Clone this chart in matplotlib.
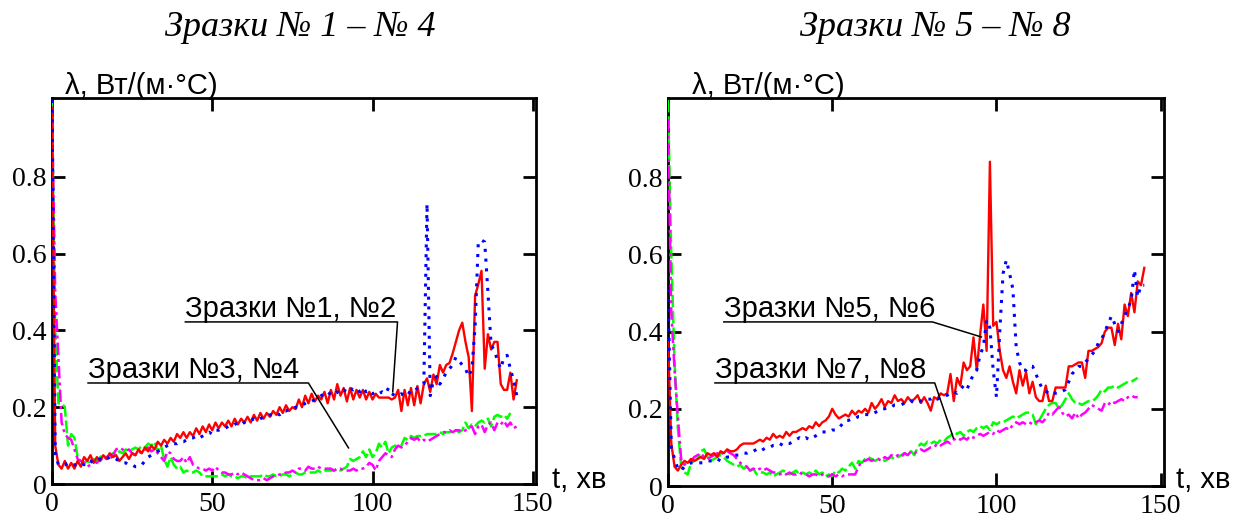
import numpy as np
import matplotlib
matplotlib.use("Agg")
import matplotlib.pyplot as plt

nan = np.nan
# time axis, minutes
t_min = list(range(0, 146))

# ---- Samples 1-4 ----
s1 = [0.98, 0.10, 0.05, 0.04, 0.06, 0.04, 0.055, 0.04, 0.06, 0.045,
      0.07, 0.06, 0.075, 0.055, 0.07, 0.06, 0.075, 0.065, 0.08, 0.07,
      0.075, 0.06, 0.07, 0.08, 0.065, 0.08, 0.075, 0.09, 0.08, 0.095,
      0.085, 0.10, 0.09, 0.11, 0.10, 0.115, 0.105, 0.12, 0.11, 0.13,
      0.12, 0.135, 0.12, 0.135, 0.125, 0.145, 0.13, 0.15, 0.135, 0.155,
      0.14, 0.16, 0.145, 0.16, 0.15, 0.165, 0.15, 0.17, 0.155, 0.17,
      0.16, 0.175, 0.16, 0.18, 0.165, 0.185, 0.17, 0.185, 0.175, 0.19,
      0.18, 0.20, 0.185, 0.205, 0.19, 0.20, 0.195, 0.22, 0.20, 0.23,
      0.21, 0.235, 0.215, 0.23, 0.22, 0.24, 0.21, 0.245, 0.22, 0.26,
      0.23, 0.25, 0.215, 0.25, 0.22, 0.245, 0.225, 0.245, 0.22, 0.24,
      0.22, 0.235, 0.225, 0.225, 0.225, 0.225, 0.22, 0.225, 0.245, 0.19,
      0.245, 0.205, 0.25, 0.205, 0.255, 0.21, 0.26, 0.275, 0.24, 0.285,
      0.26, 0.31, 0.29, 0.31, 0.315, 0.34, 0.37, 0.40, 0.42, 0.37,
      0.33, 0.19, 0.49, 0.52, 0.555, 0.30, 0.39, 0.35, 0.37, 0.37,
      0.26, 0.245, 0.245, 0.29, 0.22, 0.27]
s2 = [1.0, 0.08, 0.05, 0.05, 0.05, 0.055, 0.05, 0.05, 0.05, 0.055,
      0.05, 0.06, 0.06, 0.055, 0.06, 0.065, 0.06, 0.065, 0.07, 0.07,
      0.065, 0.06, 0.055, 0.055, 0.05, 0.05, 0.045, 0.045, 0.05, 0.06,
      0.07, 0.075, 0.08, 0.085, 0.09, 0.095, 0.10, 0.105, 0.105, 0.105,
      0.11, 0.11, 0.115, 0.12, 0.12, 0.125, 0.12, 0.125, 0.13, 0.135,
      0.13, 0.14, 0.14, 0.145, 0.145, 0.15, 0.15, 0.155, 0.16, 0.155,
      0.16, 0.165, 0.165, 0.17, 0.165, 0.17, 0.175, 0.175, 0.18, 0.18,
      0.185, 0.18, 0.19, 0.19, 0.195, 0.195, 0.20, 0.20, 0.205, 0.21,
      0.215, 0.215, 0.22, 0.225, 0.23, 0.235, 0.23, 0.24, 0.235, 0.24,
      0.235, 0.245, 0.24, 0.25, 0.245, 0.25, 0.24, 0.25, 0.24, 0.245,
      0.235, 0.24, 0.235, 0.24, 0.235, 0.25, 0.235, 0.23, 0.23, 0.235,
      0.23, 0.24, 0.235, 0.24, 0.25, 0.255, 0.26, 0.73, 0.23, 0.27,
      0.28, 0.26, 0.275, 0.29, 0.30, 0.31, 0.33, 0.32, 0.31, 0.30,
      0.28, 0.30, 0.41, 0.63, 0.635, 0.63, 0.50, 0.36, 0.35, 0.32,
      0.30, 0.33, 0.335, 0.30, 0.27, 0.23]
s3 = [1.0, 0.40, 0.21, 0.21, 0.20, 0.10, 0.13, 0.12, 0.07, 0.06,
      0.055, 0.06, 0.055, 0.065, 0.06, 0.07, 0.075, 0.07, 0.075, 0.08,
      0.075, 0.085, 0.08, 0.09, 0.085, 0.09, 0.095, 0.09, 0.10, 0.095,
      0.105, 0.10, 0.11, 0.085, 0.10, 0.065, 0.045, 0.07, 0.05, 0.04,
      0.045, 0.03, 0.035, 0.03, 0.03, 0.035, 0.03, 0.02, 0.02, 0.02,
      0.02, 0.02, 0.02, 0.025, 0.02, 0.025, 0.02, 0.02, 0.015, 0.02,
      0.02, 0.015, 0.02, 0.02, 0.02, 0.02, 0.025, 0.02, 0.02, 0.025,
      0.02, 0.02, 0.025, 0.025, 0.02, 0.025, 0.03, 0.025, 0.025, 0.03,
      0.03, 0.03, 0.03, 0.035, 0.03, 0.035, 0.035, 0.035, 0.035, 0.04,
      0.035, 0.04, 0.045, 0.065, 0.06, 0.065, 0.07, 0.085, 0.07, 0.09,
      0.07, 0.08, 0.105, 0.095, 0.11, 0.08, 0.095, 0.10, 0.095, 0.10,
      0.12, 0.115, 0.125, 0.12, 0.125, 0.125, 0.125, 0.13, 0.13, 0.13,
      0.13, 0.135, 0.13, 0.135, 0.135, 0.135, 0.14, 0.135, 0.14, 0.16,
      0.145, 0.155, 0.15, 0.16, 0.165, 0.16, 0.17, 0.15, 0.175, 0.18,
      0.175, 0.18, 0.17, 0.185, nan, nan]
s4 = [0.98, 0.50, 0.33, 0.16, 0.13, 0.12, 0.115, 0.09, 0.065, 0.06,
      0.055, 0.045, 0.05, 0.06, 0.055, 0.065, 0.06, 0.07, 0.065, 0.075,
      0.09, 0.095, 0.09, 0.085, 0.09, 0.08, 0.075, 0.085, 0.08, 0.09,
      0.095, 0.085, 0.09, 0.08, 0.07, 0.06, 0.085, 0.08, 0.065, 0.06,
      0.06, 0.07, 0.055, 0.07, 0.05, 0.045, 0.04, 0.04, 0.035, 0.04,
      0.035, 0.045, 0.035, 0.03, 0.03, 0.025, 0.025, 0.03, 0.025, 0.03,
      0.025, 0.02, 0.015, 0.01, 0.01, 0.01, 0.015, 0.01, 0.015, 0.02,
      0.02, 0.025, 0.025, 0.03, 0.03, 0.035, 0.03, 0.04, 0.04, 0.035,
      0.045, 0.04, 0.04, 0.045, 0.04, 0.04, 0.04, 0.04, 0.035, 0.04,
      0.04, 0.035, 0.035, 0.035, 0.04, 0.035, 0.04, 0.04, 0.045, 0.055,
      0.05, 0.035, 0.06, 0.07, 0.08, 0.075, 0.07, 0.09, 0.10, 0.095,
      0.10, 0.11, 0.12, 0.115, 0.12, 0.11, 0.115, 0.11, 0.115, 0.12,
      0.125, 0.13, 0.135, 0.135, 0.14, 0.135, 0.14, 0.14, 0.135, 0.14,
      0.145, 0.15, 0.13, 0.15, 0.155, 0.135, 0.155, 0.16, 0.14, 0.16,
      0.155, 0.165, 0.15, 0.16, 0.145, 0.15]

# ---- Samples 5-8 ----
s5 = [0.38, 0.11, 0.05, 0.04, 0.055, 0.065, 0.06, 0.07, 0.065, 0.07,
      0.075, 0.07, 0.085, 0.08, 0.085, 0.075, 0.09, 0.085, 0.095, 0.09,
      0.09, 0.095, 0.105, 0.11, 0.11, 0.11, 0.11, 0.115, 0.12, 0.115,
      0.125, 0.12, 0.135, 0.125, 0.13, 0.125, 0.14, 0.13, 0.14, 0.14,
      0.145, 0.15, 0.145, 0.155, 0.15, 0.165, 0.155, 0.165, 0.17, 0.18,
      0.20, 0.185, 0.175, 0.18, 0.185, 0.18, 0.195, 0.185, 0.195, 0.19,
      0.20, 0.19, 0.215, 0.20, 0.21, 0.225, 0.205, 0.22, 0.215, 0.235,
      0.22, 0.225, 0.215, 0.23, 0.22, 0.225, 0.235, 0.215, 0.23, 0.215,
      0.195, 0.23, 0.225, 0.24, 0.235, 0.24, 0.29, 0.22, 0.28, 0.26,
      0.32, 0.30, 0.31, 0.385, 0.30, 0.39, 0.47, 0.35, 0.84, 0.415,
      0.425, 0.35, 0.30, 0.28, 0.31, 0.27, 0.24, 0.30, 0.26, 0.295,
      0.24, 0.27, 0.23, 0.22, 0.22, 0.26, 0.22, 0.22, 0.255, 0.255,
      0.255, 0.255, 0.31, 0.31, 0.315, 0.32, 0.32, 0.28, 0.35, 0.35,
      0.355, 0.36, 0.37, 0.40, 0.41, 0.41, 0.365, 0.42, 0.38, 0.47,
      0.44, 0.50, 0.45, 0.53, 0.52, 0.565]
s6 = [0.51, 0.10, 0.07, 0.045, 0.04, 0.05, 0.055, 0.06, 0.06, 0.06,
      0.06, 0.06, 0.065, 0.065, 0.065, 0.07, 0.065, 0.07, 0.075, 0.075,
      0.08, 0.08, 0.08, 0.085, 0.085, 0.09, 0.09, 0.095, 0.09, 0.095,
      0.10, 0.10, 0.105, 0.105, 0.11, 0.105, 0.11, 0.11, 0.115, 0.12,
      0.125, 0.12, 0.125, 0.12, 0.125, 0.13, 0.135, 0.14, 0.14, 0.14,
      0.145, 0.145, 0.15, 0.16, 0.17, 0.17, 0.175, 0.175, 0.18, 0.18,
      0.185, 0.185, 0.185, 0.19, 0.195, 0.20, 0.20, 0.205, 0.205, 0.21,
      0.21, 0.21, 0.215, 0.215, 0.22, 0.215, 0.22, 0.22, 0.22, 0.225,
      0.225, 0.23, 0.225, 0.23, 0.235, 0.235, 0.24, 0.245, 0.24, 0.25,
      0.26, 0.25, 0.27, 0.29, 0.30, 0.34, 0.36, 0.43, 0.41, 0.30,
      0.23, 0.40, 0.55, 0.585, 0.55, 0.51, 0.36, 0.32, 0.30, 0.30,
      0.31, 0.31, 0.29, 0.27, 0.25, 0.245, 0.24, 0.245, 0.24, 0.24,
      0.245, 0.25, 0.27, 0.29, 0.30, 0.31, 0.31, 0.32, 0.33, 0.34,
      0.35, 0.37, 0.38, 0.40, 0.42, 0.44, 0.42, 0.40, 0.42, 0.44,
      0.46, 0.48, 0.56, 0.49, 0.52, 0.52]
s7 = [1.0, 0.60, 0.32, 0.15, 0.05, 0.035, 0.03, 0.06, 0.065, 0.07,
      0.09, 0.095, 0.075, 0.065, 0.07, 0.075, 0.08, 0.075, 0.065, 0.06,
      0.055, 0.05, 0.055, 0.045, 0.05, 0.04, 0.045, 0.03, 0.035, 0.035,
      0.03, 0.035, 0.025, 0.03, 0.035, 0.04, 0.035, 0.03, 0.035, 0.04,
      0.03, 0.035, 0.03, 0.035, 0.03, 0.04, 0.03, 0.035, 0.025, 0.03,
      0.025, 0.04, 0.035, 0.045, 0.04, 0.05, 0.06, 0.045, 0.065, 0.06,
      0.07, 0.075, 0.07, 0.065, 0.07, 0.07, 0.065, 0.07, 0.075, 0.07,
      0.075, 0.08, 0.085, 0.08, 0.09, 0.08, 0.10, 0.11, 0.105, 0.115,
      0.11, 0.115, 0.11, 0.12, 0.115, 0.125, 0.13, 0.14, 0.135, 0.14,
      0.13, 0.14, 0.145, 0.14, 0.15, 0.155, 0.15, 0.155, 0.145, 0.165,
      0.16, 0.165, 0.165, 0.17, 0.175, 0.18, 0.175, 0.18, 0.185, 0.19,
      0.19, 0.185, 0.16, 0.17, 0.185, 0.20, 0.21, 0.215, 0.215, 0.20,
      0.21, 0.225, 0.24, 0.225, 0.215, 0.215, 0.21, 0.215, 0.22, 0.22,
      0.225, 0.235, 0.25, 0.245, 0.255, 0.255, 0.26, 0.255, 0.26, 0.265,
      0.27, 0.27, 0.275, 0.28, nan, nan]
s8 = [0.95, 0.45, 0.30, 0.18, 0.07, 0.055, 0.06, 0.065, 0.075, 0.08,
      0.085, 0.075, 0.07, 0.075, 0.08, 0.085, 0.08, 0.09, 0.09, 0.085,
      0.08, 0.07, 0.06, 0.055, 0.05, 0.04, 0.045, 0.04, 0.045, 0.04,
      0.045, 0.04, 0.035, 0.035, 0.03, 0.035, 0.03, 0.035, 0.03, 0.03,
      0.035, 0.03, 0.03, 0.025, 0.03, 0.03, 0.025, 0.03, 0.025, 0.025,
      0.03, 0.025, 0.03, 0.025, 0.03, 0.03, 0.03, 0.03, 0.05, 0.065,
      0.065, 0.07, 0.065, 0.07, 0.07, 0.065, 0.075, 0.07, 0.08, 0.075,
      0.08, 0.075, 0.085, 0.08, 0.09, 0.085, 0.09, 0.095, 0.09, 0.095,
      0.10, 0.10, 0.11, 0.105, 0.11, 0.115, 0.11, 0.12, 0.125, 0.12,
      0.125, 0.12, 0.13, 0.125, 0.13, 0.135, 0.13, 0.135, 0.14, 0.135,
      0.145, 0.14, 0.145, 0.15, 0.145, 0.16, 0.165, 0.16, 0.165, 0.16,
      0.165, 0.16, 0.165, 0.17, 0.165, 0.175, 0.19, 0.185, 0.195, 0.205,
      0.19, 0.18, 0.185, 0.175, 0.19, 0.175, 0.185, 0.19, 0.20, 0.21,
      0.205, 0.20, 0.195, 0.215, 0.21, 0.22, 0.215, 0.22, 0.225, 0.22,
      0.23, 0.235, 0.23, 0.23, nan, nan]

titles = ["Зразки № 1 – № 4", "Зразки № 5 – № 8"]
ylabel = "λ, Вт/(м·°C)"
xlabel = "t, хв"
x_ticks = [0, 50, 100, 150]
y_ticks = [0, 0.2, 0.4, 0.6, 0.8]
y_ticklabels = ["0", "0.2", "0.4", "0.6", "0.8"]
notes_left = ["Зразки №1, №2", "Зразки №3, №4"]
notes_right = ["Зразки №5, №6", "Зразки №7, №8"]

W, H = 1246, 519
fig = plt.figure(figsize=(W / 100, H / 100), dpi=100)
fig.patch.set_facecolor("white")

def px(x, y):
    return x / W, 1 - y / H

ax_boxes = [(52, 98, 536, 484), (668, 98, 1164, 486)]
series_sets = [(s1, s2, s3, s4), (s5, s6, s7, s8)]
axes = []
for (x0, y0, x1, y1), ss in zip(ax_boxes, series_sets):
    ax = fig.add_axes([x0 / W, 1 - y1 / H, (x1 - x0) / W, (y1 - y0) / H])
    a, b, c, d = ss
    ax.plot(t_min, a, color="#ff0000", lw=1.7, ls="-", zorder=4)
    ax.plot(t_min, b, color="#0000ff", lw=2.2, ls=(0, (1, 2.2)), zorder=5)
    ax.plot(t_min, c, color="#00ff00", lw=1.8, ls=(0, (5, 1.5)), zorder=3)
    ax.plot(t_min, d, color="#ff00ff", lw=1.8, ls=(0, (5, 1.6, 1.2, 1.6)), zorder=3)
    ax.set_xlim(0, 151)
    ax.set_ylim(0, 1.005)
    ax.set_xticks(x_ticks)
    ax.set_yticks(y_ticks)
    ax.set_yticklabels(y_ticklabels)
    ax.tick_params(direction="in", length=9.5, width=2, top=True, right=True,
                   labelsize=20, colors="black")
    ax.tick_params(axis="y", pad=4)
    ax.tick_params(axis="x", pad=6)
    for lab in ax.get_xticklabels() + ax.get_yticklabels():
        lab.set_fontfamily("Liberation Serif")
    for sp in ax.spines.values():
        sp.set_linewidth(2)
    axes.append(ax)

ax1, ax2 = axes

# titles
fig.text(*px(300, 27), titles[0], family="Liberation Serif", style="italic",
         fontsize=26, ha="center", va="center")
fig.text(*px(935, 27), titles[1], family="Liberation Serif", style="italic",
         fontsize=26, ha="center", va="center")

# axis labels
for xl, xt in [(65, 552), (692, 1176)]:
    fig.text(*px(xl, 94), ylabel, family="Liberation Sans", fontsize=21,
             ha="left", va="baseline")
    fig.text(*px(xt, 488), xlabel, family="Liberation Sans", fontsize=21,
             ha="left", va="baseline")

def note(ax, text, x0, x1, yline, tx, ty):
    ax.text(x0, yline + 0.014, text, family="Liberation Sans", fontsize=21,
            ha="left", va="baseline", clip_on=False, zorder=6)
    ax.plot([x0, x1, tx], [yline, yline, ty], color="black", lw=1.1,
            clip_on=False, zorder=6)

note(ax1, notes_left[0], 41.6, 107.8, 0.422, 106.3, 0.24)
note(ax1, notes_left[1], 11.25, 80.0, 0.263, 92.5, 0.094)
note(ax2, notes_right[0], 17.0, 80.5, 0.425, 95.4, 0.386)
note(ax2, notes_right[1], 14.3, 81.2, 0.267, 86.9, 0.124)

fig.savefig("out.png", dpi=100)
